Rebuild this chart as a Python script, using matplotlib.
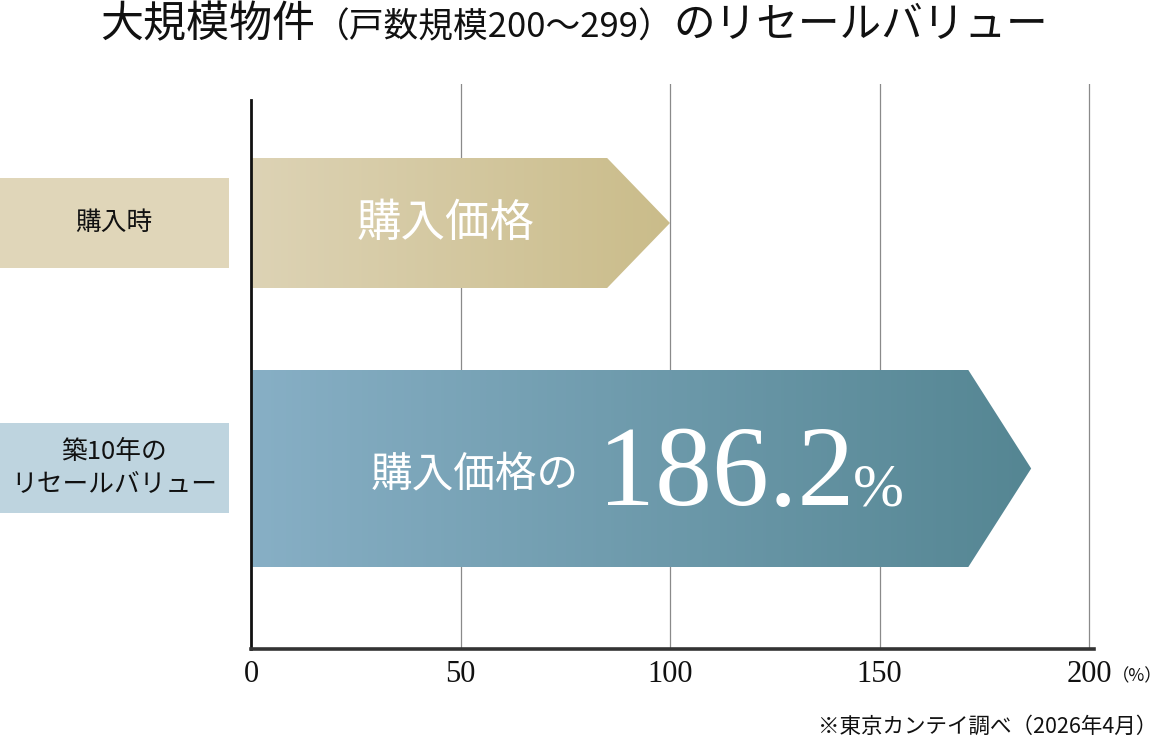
import matplotlib
matplotlib.use("Agg")
import matplotlib.pyplot as plt
import numpy as np
from matplotlib.patches import Polygon, Rectangle
from matplotlib.colors import LinearSegmentedColormap

# ---- data ----
categories = ["購入時", "築10年の\nリセールバリュー"]
values = [100, 186.2]
bar_labels = ["購入価格", "購入価格の"]
highlight_value = "186.2"
xticks = [0, 50, 100, 150, 200]
xtick_labels = ["0", "50", "100", "150", "200"]
title_parts = ["大規模物件", "（戸数規模200〜299）", "のリセールバリュー"]
unit_label = "（%）"
footnote = "※東京カンテイ調べ（2026年4月）"

# ---- styles ----
JP = ["Noto Sans CJK JP", "DejaVu Sans"]
SERIF = ["Liberation Serif", "DejaVu Serif"]
bar_grads = [("#ddd3b5", "#cabc8a"), ("#87afc5", "#558693")]
box_colors = ["#e0d6b9", "#bed4df"]
# bar vertical extents in axis units (pixels above x-axis)
bar_spans = [(361, 491), (82, 279)]
box_spans = [(381, 471), (136, 226)]
TIP = 15.0

W, H = 1161, 745
fig = plt.figure(figsize=(W / 100, H / 100), dpi=100)
fig.patch.set_facecolor("white")
ax_l, ax_r, ax_t, ax_b = 251, 1094, 84, 649
ax = fig.add_axes([ax_l / W, (H - ax_b) / H, (ax_r - ax_l) / W, (ax_b - ax_t) / H])
scale = 4.19
ax.set_xlim(0, (ax_r - ax_l) / scale)
ax.set_ylim(0, ax_b - ax_t)
ax.set_facecolor("none")

# gridlines
for xv in xticks[1:]:
    ax.plot([xv, xv], [0, ax_b - ax_t], color="#8a8a8a", lw=0.9, zorder=0)

for s in ["top", "right"]:
    ax.spines[s].set_visible(False)
ax.spines["left"].set_bounds(0, ax_b - 100)
ax.spines["left"].set_linewidth(2.0)
ax.spines["left"].set_color("#111111")
ax.spines["bottom"].set_linewidth(2.6)
ax.spines["bottom"].set_color("#333333")
ax.spines["left"].set_zorder(5)
ax.spines["bottom"].set_zorder(5)
ax.set_yticks([])
ax.set_xticks(xticks)
ax.set_xticklabels(xtick_labels, family=SERIF, fontsize=22, color="#111111")
ax.tick_params(axis="x", length=0, pad=8)

# bars
for i, (v, (y0, y1), (c0, c1)) in enumerate(zip(values, bar_spans, bar_grads)):
    yc = (y0 + y1) / 2
    verts = [(0, y0), (v - TIP, y0), (v, yc), (v - TIP, y1), (0, y1)]
    poly = Polygon(verts, closed=True, facecolor="none", edgecolor="none")
    ax.add_patch(poly)
    cmap = LinearSegmentedColormap.from_list(f"g{i}", [c0, c1])
    grad = np.linspace(0, 1, 256).reshape(1, -1)
    im = ax.imshow(grad, cmap=cmap, extent=[0, v, y0, y1], aspect="auto",
                   origin="lower", zorder=2, interpolation="bilinear")
    im.set_clip_path(poly)

ax.set_xlim(0, (ax_r - ax_l) / scale)
ax.set_ylim(0, ax_b - ax_t)

# text in bars
y1c = sum(bar_spans[0]) / 2
ax.text((446 - ax_l) / scale, y1c, bar_labels[0], family=JP, fontsize=32,
        color="white", ha="center", va="center", zorder=4)
base2 = ax_b - 505
ax.text((371 - ax_l) / scale, ax_b - 486, bar_labels[1], family=JP, fontsize=30,
        color="white", ha="left", va="baseline", zorder=4)
ax.text((598 - ax_l) / scale, base2, highlight_value, family=SERIF, fontsize=82,
        color="white", ha="left", va="baseline", zorder=4)
ax.text((853 - ax_l) / scale, base2, "%", family=SERIF, fontsize=44,
        color="white", ha="left", va="baseline", zorder=4)

# left category boxes
for lab, (y0, y1), col in zip(categories, box_spans, box_colors):
    fig.patches.append(Rectangle((0, (H - ax_b + y0) / H), 229 / W, (y1 - y0) / H,
                                 transform=fig.transFigure, facecolor=col,
                                 edgecolor="none", zorder=1))
    fig.text(114 / W, (H - ax_b + (y0 + y1) / 2) / H, lab, family=JP, fontsize=18.5,
             ha="center", va="center", color="#111111", linespacing=1.3, zorder=3)

# unit label
fig.text(1112 / W, (H - 676) / H, unit_label, family=JP, fontsize=12.5,
         ha="left", va="center", color="#111111")

# footnote
fig.text(1157 / W, (H - 727) / H, footnote, family=JP, fontsize=15.5,
         ha="right", va="center", color="#111111")

# title (chained pieces)
fig.canvas.draw()
renderer = fig.canvas.get_renderer()
sizes = [31, 25, 30]
x = 100
base_y = (H - 37) / H
for part, sz in zip(title_parts, sizes):
    t = fig.text(x / W, base_y, part, family=JP, fontsize=sz, ha="left",
                 va="baseline", color="#111111")
    bb = t.get_window_extent(renderer)
    x += bb.width

fig.savefig("out.png", dpi=100, facecolor="white")
